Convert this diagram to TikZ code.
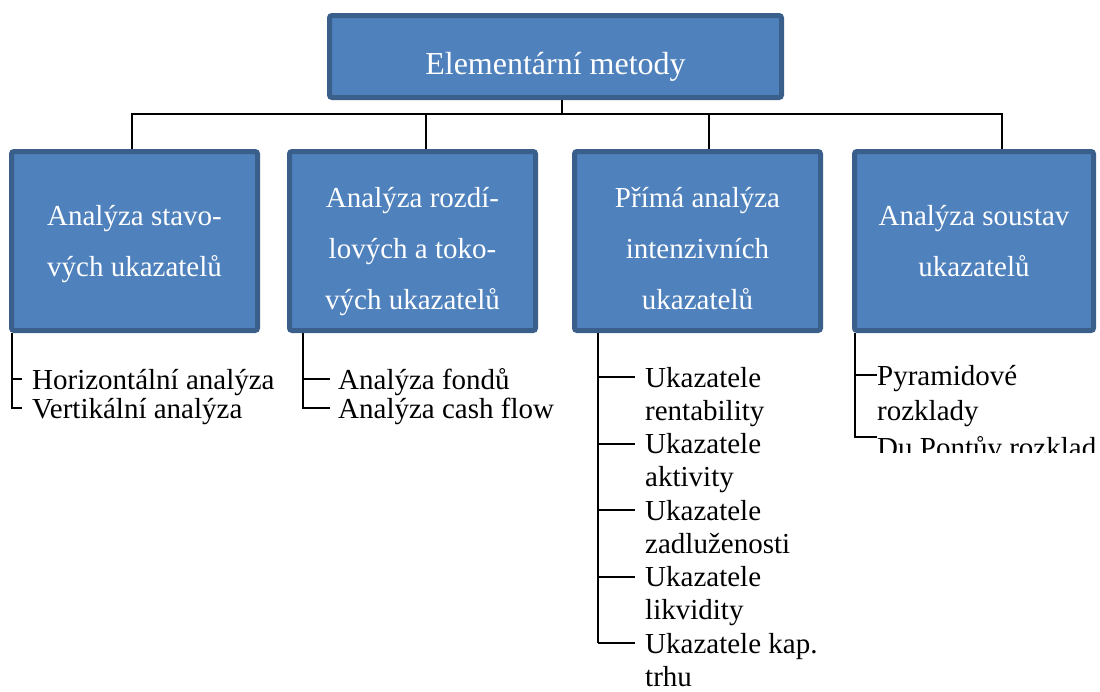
\documentclass[tikz,border=0pt]{standalone}
\usepackage{fontspec}
\setmainfont{Liberation Serif}
\definecolor{boxfill}{HTML}{4F81BD}
\definecolor{boxline}{HTML}{3A5F8B}
\begin{document}
\begin{tikzpicture}[x=1pt,y=-1pt,
  boxnode/.style={draw=boxline, fill=boxfill, line width=5pt, rounded corners=2.5pt, inner sep=0pt},
  boxtext/.style={text=white, font=\fontsize{29}{34}\selectfont, anchor=base, inner sep=0pt},
  toptext/.style={text=white, font=\fontsize{32}{38}\selectfont, anchor=base, inner sep=0pt},
  itemtext/.style={text=black, font=\fontsize{29}{34}\selectfont, anchor=base west, inner sep=0pt, text height=20pt, text depth=0pt},
  link/.style={draw=black, line width=2pt},
]
\useasboundingbox (0,0) rectangle (1100,691);

% boxes
\node[boxnode, minimum width=452pt, minimum height=82pt] (top) at (555.5,56.5) {};
\node[boxnode, minimum width=246pt, minimum height=179pt] (b1) at (134.5,241) {};
\node[boxnode, minimum width=246pt, minimum height=179pt] (b2) at (412.5,241) {};
\node[boxnode, minimum width=246pt, minimum height=179pt] (b3) at (697.5,241) {};
\node[boxnode, minimum width=239pt, minimum height=179pt] (b4) at (974,241) {};

% box texts
\node[toptext] (ttop) at (555.5,74) {Elementární metody};
\node[boxtext] (t1a) at (134.5,225) {Analýza stavo-};
\node[boxtext] (t1b) at (134.5,276) {vých ukazatelů};
\node[boxtext] (t2a) at (412.5,207) {Analýza rozdí-};
\node[boxtext] (t2b) at (412.5,258) {lových a toko-};
\node[boxtext] (t2c) at (412.5,309) {vých ukazatelů};
\node[boxtext] (t3a) at (697.5,207) {Přímá analýza};
\node[boxtext] (t3b) at (697.5,258) {intenzivních};
\node[boxtext] (t3c) at (697.5,309) {ukazatelů};
\node[boxtext] (t4a) at (974,225) {Analýza soustav};
\node[boxtext] (t4b) at (974,276) {ukazatelů};

% bus
\coordinate (hub) at (562,114);
\coordinate (j1) at (132,114);
\coordinate (j2) at (426,114);
\coordinate (j3) at (709,114);
\coordinate (j4) at (1002,114);
\draw[link] (top.south -| hub) -- (hub);
\draw[link] (j1 |- b1.north) -- (j1) -- (j4) -- (j4 |- b4.north);
\draw[link] (j2) -- (j2 |- b2.north);
\draw[link] (j3) -- (j3 |- b3.north);

% children of b1
\coordinate (v1) at (12,0);
\node[itemtext] (c1a) at (32,389) {Horizontální analýza};
\node[itemtext] (c1b) at (32,418) {Vertikální analýza};
\draw[link] (b1.south -| v1) |- ([xshift=-10pt]c1b.west);
\draw[link] (v1 |- c1a.west) -- ([xshift=-10pt]c1a.west);

% children of b2
\coordinate (v2) at (303,0);
\node[itemtext] (c2a) at (338,389) {Analýza fondů};
\node[itemtext] (c2b) at (338,418) {Analýza cash flow};
\draw[link] (b2.south -| v2) |- ([xshift=-8pt]c2b.west);
\draw[link] (v2 |- c2a.west) -- ([xshift=-8pt]c2a.west);

% children of b3
\coordinate (v3) at (598,0);
\foreach \a/\b [count=\i from 0] in {Ukazatele/rentability, Ukazatele/aktivity, Ukazatele/zadluženosti, Ukazatele/likvidity, Ukazatele kap./trhu} {
  \node[itemtext] (c3a\i) at (645,387+66.5*\i) {\a};
  \node[itemtext] (c3b\i) at (645,420+66.5*\i) {\b};
  \draw[link] (v3 |- c3a\i.west) -- ([xshift=-10pt]c3a\i.west);
}
\draw[link] (b3.south -| v3) -- (v3 |- c3a4.west);

% children of b4
\coordinate (v4) at (855,0);
\node[itemtext] (c4a) at (877,385) {Pyramidové};
\node[itemtext] (c4b) at (877,420) {rozklady};
\begin{scope}
  \clip (840,425) rectangle (1100,452);
  \node[itemtext] (c4c) at (877,457) {Du Pontův rozklad};
\end{scope}
\draw[link] (b4.south -| v4) |- ([yshift=10pt]c4c.west);
\draw[link] (v4 |- c4a.west) -- (c4a.west);
\end{tikzpicture}
\end{document}
